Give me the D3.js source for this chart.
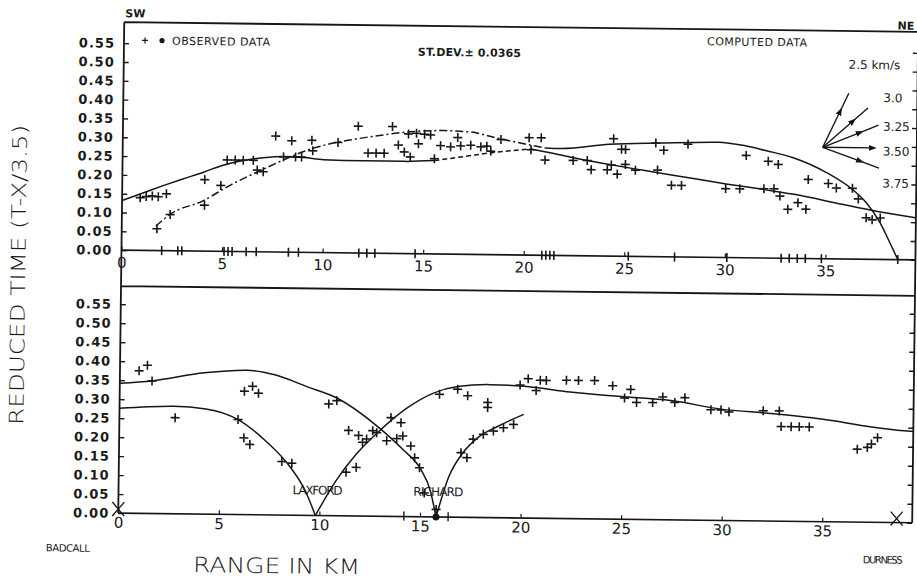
<!DOCTYPE html>
<html>
<head>
<meta charset="utf-8">
<script src="https://cdn.jsdelivr.net/npm/d3@7"></script>
<style>
  body { margin: 0; background: #fff; }
  svg text { fill: #1a1a1a; font-family: "DejaVu Sans", sans-serif; }
</style>
</head>
<body>
<div id="chart"></div>
<script>
const width = 917;
const height = 579;

// axis ticks
const xTicks = [0, 5, 10, 15, 20, 25, 30, 35];
const yTicks = [0, 0.05, 0.10, 0.15, 0.20, 0.25, 0.30, 0.35, 0.40, 0.45, 0.50, 0.55];

// ---- upper panel: computed curves (km, reduced time) ----
const swTopKm = [0, 1, 2, 3, 4, 5, 6, 7, 8, 9, 10, 12, 14, 15.5];
const swTopT  = [0.132, 0.152, 0.172, 0.191, 0.209, 0.229, 0.242, 0.25, 0.254, 0.252, 0.247, 0.245, 0.245, 0.248];
const swGapKm = [15.5, 17, 18.5, 20.3];
const swGapT  = [0.248, 0.26, 0.272, 0.282];
const swFarKm = [20.3, 21.5, 22.6, 24, 25.9, 28, 30.1, 32, 33.4, 35.8, 37.5, 39.45];
const swFarT  = [0.282, 0.27, 0.258, 0.245, 0.229, 0.212, 0.195, 0.181, 0.17, 0.145, 0.128, 0.112];
const neWestKm = [1.7, 2.4, 4.0, 5.4, 6.9, 8.0, 9.0, 10.2, 11.5, 13, 14.5, 16, 17.3, 18.6, 20, 21];
const neWestT  = [0.065, 0.097, 0.133, 0.177, 0.217, 0.245, 0.268, 0.288, 0.302, 0.315, 0.325, 0.328, 0.325, 0.31, 0.295, 0.285];
const neEastKm = [21, 21.8, 24.2, 26.7, 29.6, 30.9, 32, 33.3, 35, 36.3, 37, 37.7, 38.2, 38.6];
const neEastT  = [0.285, 0.284, 0.297, 0.302, 0.306, 0.298, 0.285, 0.268, 0.229, 0.185, 0.15, 0.097, 0.044, 0];

// upper panel: observed data
const obsTopKm = [0.9, 1.2, 1.5, 1.8, 2.2, 1.75, 2.4, 4.1, 4.1, 4.9, 5.2, 5.6, 6.0, 6.5, 6.7, 7.0, 7.6, 8.4, 9.4, 8.0,
  8.6, 8.9, 9.45, 10.7, 11.7, 13.4, 12.2, 12.6, 13.0, 13.7, 14.0, 14.2, 14.6, 15.0, 15.3, 14.7, 14.3, 15.5, 15.8, 16.3,
  16.65, 16.8, 17.3, 17.8, 18.1, 18.3, 18.8, 20.2, 20.8, 20.3, 21.0, 22.4, 23.1, 23.3, 24.1, 24.3, 24.6, 25.0, 25.5, 24.8,
  25.0, 24.4, 26.6, 26.9, 26.5, 27.3, 27.8, 28.1, 30.0, 30.7, 31.0, 31.9, 32.4, 32.1, 32.6, 32.7, 33.1, 33.6, 34.0, 34.1,
  35.1, 35.5, 36.3, 36.6, 37.0, 37.3, 37.7];
const obsTopT = [0.14, 0.143, 0.145, 0.143, 0.151, 0.058, 0.096, 0.122, 0.19, 0.175, 0.243, 0.243, 0.243, 0.243, 0.217, 0.213, 0.308, 0.296, 0.298, 0.253,
  0.253, 0.253, 0.27, 0.293, 0.337, 0.337, 0.266, 0.266, 0.266, 0.288, 0.27, 0.318, 0.32, 0.318, 0.316, 0.292, 0.257, 0.253, 0.288, 0.285,
  0.31, 0.288, 0.29, 0.286, 0.288, 0.275, 0.306, 0.312, 0.312, 0.28, 0.253, 0.253, 0.253, 0.229, 0.229, 0.242, 0.218, 0.244, 0.229, 0.284,
  0.284, 0.312, 0.23, 0.283, 0.302, 0.19, 0.19, 0.3, 0.183, 0.183, 0.272, 0.184, 0.184, 0.257, 0.249, 0.165, 0.13, 0.148, 0.131, 0.21,
  0.2, 0.188, 0.188, 0.16, 0.11, 0.105, 0.11];

// recording stations along the profile
const stationKm = [2.0, 2.8, 3.0, 5.1, 5.3, 5.5, 6.2, 6.7, 8.3, 8.8, 11.8, 12.2, 12.6, 14.6, 20.9, 21.1, 21.3, 21.5,
  25.2, 27.5, 30.1, 32.8, 33.2, 33.6, 34.0, 34.8, 38.6];

// ---- lower panel: computed curves ----
const b1Km = [0, 1.6, 4.2, 6.3, 7.7, 9.3, 10.8, 12.8, 14.1, 15.0, 15.5, 15.8];
const b1T  = [0.342, 0.349, 0.372, 0.38, 0.369, 0.339, 0.31, 0.238, 0.177, 0.126, 0.069, 0];
const b2Km = [0, 2.7, 4.3, 5.9, 7.3, 8.5, 9.3, 9.8];
const b2T  = [0.276, 0.283, 0.277, 0.25, 0.194, 0.128, 0.063, 0];
const b3Km = [9.8, 10.8, 11.8, 13.0, 14.3, 15.6, 16.8, 18.4, 20.1, 22.4, 24.9, 27.4, 29.9, 32.4, 34.9, 37.4, 39.0, 39.5];
const b3T  = [0, 0.092, 0.163, 0.228, 0.286, 0.326, 0.344, 0.35, 0.347, 0.333, 0.323, 0.314, 0.293, 0.283, 0.27, 0.251, 0.242, 0.24];
const b4Km = [15.8, 16.4, 17.1, 17.8, 18.8, 20.1];
const b4T  = [0, 0.105, 0.17, 0.209, 0.24, 0.273];

// lower panel: observed data
const obsBotKm = [0.95, 1.36, 1.6, 2.77, 5.9, 6.2, 6.6, 6.9, 6.2, 6.5, 8.1, 8.6, 10.4, 10.8, 11.4, 11.9, 12.1, 12.3, 11.8, 11.3,
  12.6, 12.8, 13.3, 13.5, 14.0, 13.8, 14.1, 14.5, 14.7, 14.95, 15.2, 15.8, 17.0, 17.3, 17.6, 18.1, 18.6, 19.1, 19.6, 15.9,
  16.8, 17.3, 18.3, 18.3, 19.9, 20.3, 20.7, 20.9, 21.2, 22.2, 22.8, 23.6, 24.5, 25.4, 25.1, 25.7, 26.5, 27.0, 27.6, 28.1,
  29.4, 29.9, 30.3, 32.0, 32.8, 32.9, 33.4, 33.8, 34.3, 36.7, 37.2, 37.4, 37.7];
const obsBotT = [0.375, 0.39, 0.349, 0.253, 0.25, 0.325, 0.338, 0.32, 0.202, 0.185, 0.141, 0.137, 0.294, 0.303, 0.225, 0.212, 0.194, 0.203, 0.128, 0.115,
  0.225, 0.22, 0.199, 0.26, 0.247, 0.205, 0.212, 0.186, 0.155, 0.129, 0.063, 0.02, 0.17, 0.157, 0.206, 0.219, 0.228, 0.237, 0.246, 0.323,
  0.337, 0.32, 0.29, 0.303, 0.35, 0.367, 0.336, 0.363, 0.363, 0.364, 0.364, 0.364, 0.351, 0.342, 0.319, 0.308, 0.308, 0.323, 0.309, 0.322,
  0.291, 0.291, 0.286, 0.29, 0.29, 0.249, 0.249, 0.249, 0.249, 0.192, 0.197, 0.206, 0.223];

const lowStationKm = [14.2, 16.4];
const shotKm = [0, 9.8, 15.8, 38.7];
const shotNames = ["BADCALL", "LAXFORD", "RICHARD", "DURNESS"];

// slope arrows
const fanVel = [2.5, 3.0, 3.25, 3.5, 3.75];
const fanLabels = ["2.5 km/s", "3.0", "3.25", "3.50", "3.75"];
const reduction = 3.5;

// ---------------------------------------------------------------
const frameL = 121, frameR = 915, frameT = 27, frameM = 291;

const x = d3.scaleLinear().domain([0, 35]).range([121, 825]);
const yTop = d3.scaleLinear().domain([0, 0.55]).range([255, 48]);
const yBot = d3.scaleLinear().domain([0, 0.55]).range([518, 309]);
const frameB = yBot(0);
const ink = "#161616";
const condensed = "'DejaVu Sans Condensed', 'DejaVu Sans', sans-serif";

const svg = d3.select("#chart").append("svg")
  .attr("width", width)
  .attr("height", height);

svg.append("rect").attr("width", width).attr("height", height).attr("fill", "#fff");

svg.append("defs").append("marker")
  .attr("id", "arrow")
  .attr("viewBox", "0 -4 8 8")
  .attr("refX", 6).attr("refY", 0)
  .attr("markerWidth", 8).attr("markerHeight", 8)
  .attr("markerUnits", "userSpaceOnUse")
  .attr("orient", "auto")
  .append("path").attr("d", "M0,-3L8,0L0,3Z").attr("fill", ink);

// the scanned page is slightly tilted
const g = svg.append("g").attr("transform", "rotate(0.7,520,290)");

// frame
g.append("path")
  .attr("d", `M${frameL},${frameT}H${frameR}M${frameL},${frameM}H${frameR}M${frameL},${frameT}V${frameB}M${frameR},${frameT}V${frameB}`)
  .attr("fill", "none").attr("stroke", ink).attr("stroke-width", 1.8);

// zero lines
g.append("path")
  .attr("d", `M${frameL},${yTop(0)}H${frameR}M${frameL},${frameB}H${frameR}`)
  .attr("fill", "none").attr("stroke", ink).attr("stroke-width", 1.6);

function yAxes(scale) {
  g.append("g")
    .attr("transform", `translate(${frameL},0)`)
    .call(d3.axisLeft(scale).tickValues(yTicks).tickSize(-5).tickPadding(9).tickFormat(d3.format(".2f")))
    .call(s => s.select(".domain").remove())
    .call(s => s.selectAll("line").attr("stroke", ink).attr("stroke-width", 1.4))
    .call(s => s.selectAll("text")
      .attr("font-family", "'DejaVu Sans Mono', monospace")
      .attr("font-weight", "bold")
      .attr("font-size", 13)
      .attr("letter-spacing", 1)
      .attr("fill", ink));
  g.append("g")
    .attr("transform", `translate(${frameR},0)`)
    .call(d3.axisRight(scale).tickValues(yTicks).tickSize(-5).tickFormat(""))
    .call(s => s.select(".domain").remove())
    .call(s => s.selectAll("line").attr("stroke", ink).attr("stroke-width", 1.4));
}
yAxes(yTop);
yAxes(yBot);

function xAxis(y0, pad) {
  g.append("g")
    .attr("transform", `translate(0,${y0})`)
    .call(d3.axisBottom(x).tickValues(xTicks).tickSize(-4).tickPadding(pad))
    .call(s => s.select(".domain").remove())
    .call(s => s.selectAll("line").attr("stroke", ink).attr("stroke-width", 1.2))
    .call(s => s.selectAll("text")
      .attr("font-family", "'DejaVu Sans', sans-serif")
      .attr("font-size", 15)
      .attr("fill", ink));
}
xAxis(yTop(0), 7);
xAxis(frameB, 4);

// station marks on the zero lines
g.append("g").selectAll("line")
  .data(stationKm)
  .join("line")
  .attr("x1", d => x(d)).attr("x2", d => x(d))
  .attr("y1", yTop(0) - 4.5).attr("y2", yTop(0) + 4.5)
  .attr("stroke", ink).attr("stroke-width", 1.6);

g.append("g").selectAll("line")
  .data(lowStationKm)
  .join("line")
  .attr("x1", d => x(d)).attr("x2", d => x(d))
  .attr("y1", frameB - 5).attr("y2", frameB + 4)
  .attr("stroke", ink).attr("stroke-width", 1.4);

// computed curves
const curves = [
  { km: swTopKm, t: swTopT, y: yTop, dash: null },
  { km: swGapKm, t: swGapT, y: yTop, dash: "5,3" },
  { km: swFarKm, t: swFarT, y: yTop, dash: null },
  { km: neWestKm, t: neWestT, y: yTop, dash: "8,3,2,3" },
  { km: neEastKm, t: neEastT, y: yTop, dash: null },
  { km: b1Km, t: b1T, y: yBot, dash: null },
  { km: b2Km, t: b2T, y: yBot, dash: null },
  { km: b3Km, t: b3T, y: yBot, dash: null },
  { km: b4Km, t: b4T, y: yBot, dash: null }
];

curves.forEach(c => {
  const line = d3.line()
    .x(d => x(d[0]))
    .y(d => c.y(d[1]))
    .curve(d3.curveMonotoneX);
  g.append("path")
    .datum(d3.zip(c.km, c.t))
    .attr("d", line)
    .attr("fill", "none")
    .attr("stroke", ink)
    .attr("stroke-width", 1.5)
    .attr("stroke-dasharray", c.dash);
});

// observed data crosses
const cross = "M-4.5,0H4.5M0,-4.5V4.5";
function crosses(kms, ts, scale) {
  g.append("g").selectAll("path")
    .data(d3.zip(kms, ts))
    .join("path")
    .attr("d", cross)
    .attr("transform", d => `translate(${x(d[0])},${scale(d[1])})`)
    .attr("stroke", ink)
    .attr("stroke-width", 1.6);
}
crosses(obsTopKm, obsTopT, yTop);
crosses(obsBotKm, obsBotT, yBot);

// shot points on the lower panel
[shotKm[0], shotKm[3]].forEach(k => {
  g.append("path")
    .attr("d", "M-6,-7L6,7M6,-7L-6,7")
    .attr("transform", `translate(${x(k)},${frameB - 4})`)
    .attr("stroke", ink).attr("stroke-width", 1.3).attr("fill", "none");
});
g.append("circle")
  .attr("cx", x(shotKm[2])).attr("cy", frameB).attr("r", 3.5).attr("fill", ink);

g.selectAll(".shotname")
  .data([1, 2])
  .join("text")
  .attr("x", i => x(shotKm[i]) + 2)
  .attr("y", 497)
  .attr("text-anchor", "middle")
  .attr("font-family", condensed)
  .attr("font-size", 12)
  .attr("textLength", 50)
  .text(i => shotNames[i]);

g.append("text")
  .attr("x", 49).attr("y", 557)
  .attr("font-family", condensed)
  .attr("font-size", 10).attr("textLength", 44)
  .text(shotNames[0]);

g.append("text")
  .attr("x", 866).attr("y", 559)
  .attr("font-family", condensed)
  .attr("font-size", 10).attr("textLength", 40)
  .text(shotNames[3]);

// slope fan
const fanOrigin = [34.8, 0.296];
const ox = x(fanOrigin[0]), oy = yTop(fanOrigin[1]);
const fanLen = 60;
fanVel.forEach((v, i) => {
  const slope = 1 / v - 1 / reduction;
  const dx = x(1) - x(0);
  const dy = yTop(slope) - yTop(0);
  const n = Math.hypot(dx, dy);
  const ux = dx / n, uy = dy / n;
  const len = v === reduction ? 52 : fanLen;
  const ex = ox + ux * len, ey = oy + uy * len;
  if (v === reduction) {
    g.append("line")
      .attr("x1", ox).attr("y1", oy).attr("x2", ex).attr("y2", ey)
      .attr("stroke", ink).attr("stroke-width", 1.4)
      .attr("marker-end", "url(#arrow)");
  } else {
    const mx = ox + ux * len * 0.7, my = oy + uy * len * 0.7;
    g.append("path")
      .attr("d", `M${ox},${oy}L${mx},${my}L${ex},${ey}`)
      .attr("fill", "none")
      .attr("stroke", ink).attr("stroke-width", 1.4)
      .attr("marker-mid", "url(#arrow)");
  }
  const lab = g.append("text")
    .attr("dominant-baseline", "middle")
    .attr("font-size", 12)
    .text(fanLabels[i]);
  if (i === 0) {
    lab.attr("x", ox + ux * 82 + 16).attr("y", oy + uy * 82 - 8).attr("text-anchor", "middle");
  } else {
    lab.attr("x", ox + 60).attr("y", oy + (dy / dx) * 60 * (slope < 0 ? 1.5 : 1) + 4);
  }
});

// labels inside the upper panel
g.append("text").attr("x", 122).attr("y", 22)
  .attr("font-size", 11).attr("font-weight", "bold").text("SW");
g.append("text").attr("x", 911).attr("y", 25).attr("text-anchor", "end")
  .attr("font-size", 11).attr("font-weight", "bold").text("NE");

g.append("path").attr("d", "M-3,0H3M0,-3V3")
  .attr("transform", "translate(142,45)").attr("stroke", ink).attr("stroke-width", 1.2);
g.append("circle").attr("cx", 159).attr("cy", 45).attr("r", 2.6).attr("fill", ink);
g.append("text").attr("x", 169).attr("y", 49)
  .attr("font-family", condensed)
  .attr("font-size", 11).attr("textLength", 98).text("OBSERVED DATA");

g.append("text").attr("x", 415).attr("y", 57)
  .attr("font-family", condensed)
  .attr("font-size", 11).attr("font-weight", "bold").attr("textLength", 103)
  .text("ST.DEV.± 0.0365");

g.append("text").attr("x", 704).attr("y", 43)
  .attr("font-family", condensed)
  .attr("font-size", 11).attr("textLength", 100).text("COMPUTED DATA");

// axis titles
g.append("text")
  .attr("transform", "translate(25,281) rotate(-90)")
  .attr("text-anchor", "middle")
  .attr("font-size", 20).attr("font-weight", 200)
  .attr("textLength", 300).attr("lengthAdjust", "spacingAndGlyphs")
  .text("REDUCED TIME (T-X/3.5)");

g.append("text")
  .attr("x", 280).attr("y", 576)
  .attr("text-anchor", "middle")
  .attr("font-size", 21).attr("font-weight", 200)
  .attr("textLength", 167).attr("lengthAdjust", "spacingAndGlyphs")
  .text("RANGE IN KM");
</script>
</body>
</html>
